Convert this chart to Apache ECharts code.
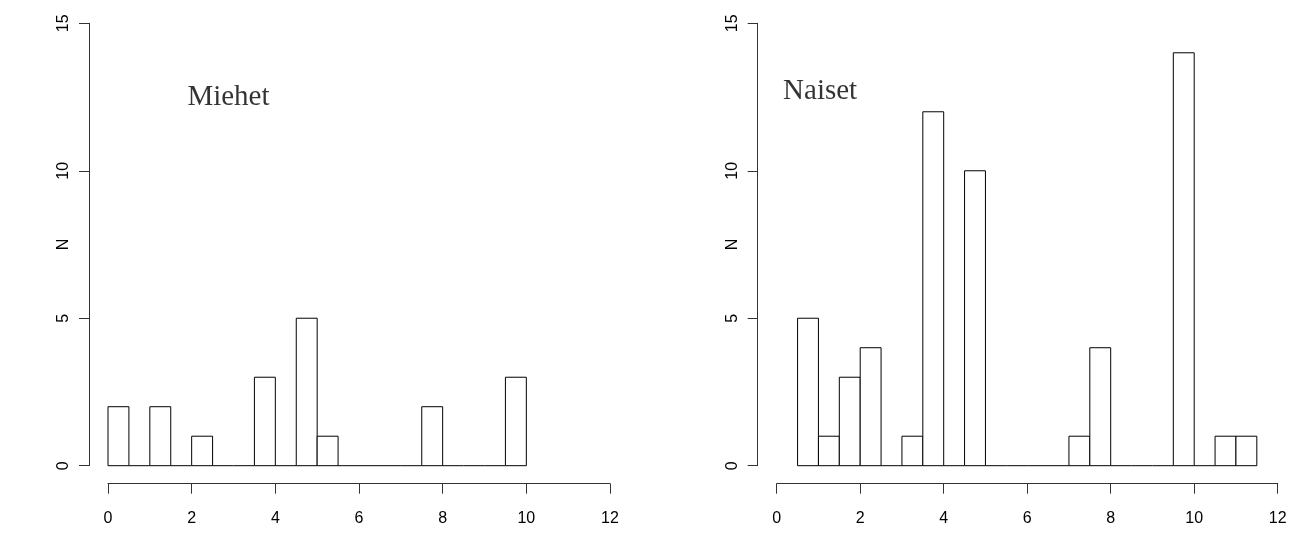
<!DOCTYPE html>
<html>
<head>
<meta charset="utf-8">
<script src="https://cdn.jsdelivr.net/npm/echarts@6/dist/echarts.min.js"></script>
<style>
html,body{margin:0;padding:0;background:#fff;}
#c{width:1299px;height:540px;}
</style>
</head>
<body>
<div id="c"></div>
<script>
// ---- data ----
const binWidth = 0.5;
const menBinStart = 0;
const menCounts = [2,0,2,0,1,0,0,3,0,5,1,0,0,0,0,2,0,0,0,3];
const womenBinStart = 0.5;
const womenCounts = [5,1,3,4,0,1,12,0,10,0,0,0,0,1,4,0,0,0,14,0,1,1];
const xTicks = [0,2,4,6,8,10,12];
const yTicks = [0,5,10,15];
const panelTitles = ['Miehet','Naiset'];
const titlePos = [[2.88,12.5],[1.04,12.7]];
const yAxisTitle = 'N';

function bins(start, counts){
  return counts.map((c,i)=>[start+i*binWidth, start+(i+1)*binWidth, c]);
}

function renderItem(params, api){
  const x0 = api.value(0), x1 = api.value(1), c = api.value(2);
  const p0 = api.coord([x0, 0]);
  const p1 = api.coord([x1, c]);
  if (c === 0) {
    return {type:'line', shape:{x1:p0[0], y1:p0[1], x2:p1[0], y2:p0[1]},
      style:{stroke:'#000', lineWidth:1}};
  }
  return {type:'rect', shape:{x:p0[0], y:p1[1], width:p1[0]-p0[0], height:p0[1]-p1[1]},
    style:{fill:'#fff', stroke:'#000', lineWidth:1}};
}

const axisColor = '#333';
const tickFont = {fontFamily:'Liberation Sans, Arial, sans-serif', fontSize:16, color:'#000'};

function xAx(gi){
  return {gridIndex:gi, type:'value', min:xTicks[0], max:xTicks[xTicks.length-1],
    interval:xTicks[1]-xTicks[0], offset:18,
    axisLine:{show:true, onZero:false, lineStyle:{color:axisColor, width:1}},
    axisTick:{show:true, length:10, lineStyle:{color:axisColor}},
    axisLabel:Object.assign({margin:27}, tickFont),
    splitLine:{show:false}};
}
function yAx(gi){
  return {gridIndex:gi, type:'value', min:yTicks[0], max:yTicks[yTicks.length-1],
    interval:yTicks[1]-yTicks[0], offset:19,
    name:yAxisTitle, nameLocation:'middle', nameRotate:90, nameGap:17,
    nameMoveOverlap:false,
    nameTextStyle:tickFont,
    axisLine:{show:true, onZero:false, lineStyle:{color:axisColor, width:1}},
    axisTick:{show:true, length:10, lineStyle:{color:axisColor}},
    axisLabel:Object.assign({margin:17, rotate:90}, tickFont),
    splitLine:{show:false}};
}
function titleSeries(gi, idx){
  return {type:'scatter', xAxisIndex:gi, yAxisIndex:gi, symbolSize:0, silent:true,
    data:[titlePos[idx]],
    label:{show:true, position:'inside', formatter:panelTitles[idx],
      fontFamily:'Liberation Serif, Times New Roman, serif', fontSize:29, color:'#000'}};
}

const chart = echarts.init(document.getElementById('c'));
chart.setOption({
  backgroundColor:'#fff',
  animation:false,
  grid:[
    {left:108, top:23.3, width:502, height:442.4, outerBoundsMode:'none'},
    {left:776.7, top:23.3, width:501, height:442.4, outerBoundsMode:'none'}
  ],
  xAxis:[xAx(0), xAx(1)],
  yAxis:[yAx(0), yAx(1)],
  series:[
    {type:'custom', xAxisIndex:0, yAxisIndex:0, clip:false, renderItem, data:bins(menBinStart, menCounts)},
    {type:'custom', xAxisIndex:1, yAxisIndex:1, clip:false, renderItem, data:bins(womenBinStart, womenCounts)},
    titleSeries(0,0),
    titleSeries(1,1)
  ]
});
</script>
</body>
</html>
